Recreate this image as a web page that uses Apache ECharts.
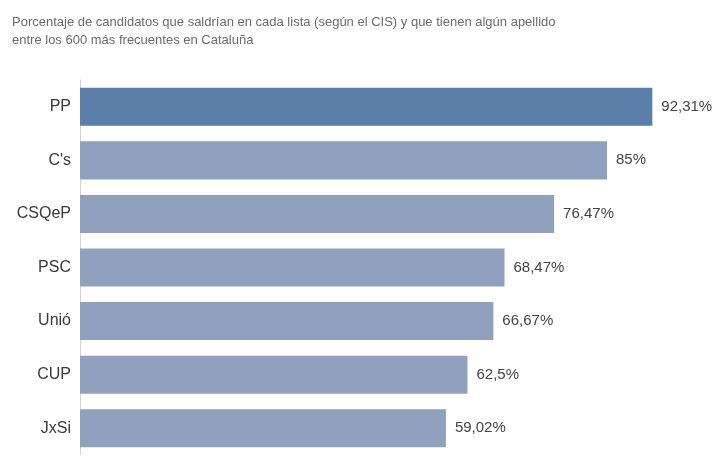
<!DOCTYPE html>
<html>
<head>
<meta charset="utf-8">
<script src="https://cdn.jsdelivr.net/npm/echarts@6/dist/echarts.min.js"></script>
<style>
html, body { margin: 0; padding: 0; background: #fff; }
#chart { width: 722px; height: 464px; }
</style>
</head>
<body>
<div id="chart"></div>
<script>
var partidos = ['PP', "C's", 'CSQeP', 'PSC', 'Unió', 'CUP', 'JxSi'];
var porcentajes = [92.31, 85, 76.47, 68.47, 66.67, 62.5, 59.02];
var etiquetas = ['92,31%', '85%', '76,47%', '68,47%', '66,67%', '62,5%', '59,02%'];

var chart = echarts.init(document.getElementById('chart'));

var datos = porcentajes.map(function (v, i) {
    return {
        value: v,
        itemStyle: { color: i === 0 ? '#5a7ea7' : '#90a1bd' }
    };
});

var option = {
    animation: false,
    title: {
        text: 'Porcentaje de candidatos que saldrían en cada lista (según el CIS) y que tienen algún apellido\nentre los 600 más frecuentes en Cataluña',
        left: 7,
        top: 8,
        textStyle: {
            fontFamily: 'Liberation Sans, Arial, sans-serif',
            fontSize: 13,
            fontWeight: 'normal',
            color: '#6b6b6b',
            lineHeight: 18
        }
    },
    grid: {
        left: 80,
        top: 80,
        width: 620,
        height: 375
    },
    xAxis: {
        type: 'value',
        min: 0,
        max: 100,
        show: false
    },
    yAxis: {
        type: 'category',
        inverse: true,
        data: partidos,
        axisLine: { show: true, lineStyle: { color: '#d4d4d4', width: 1 } },
        axisTick: { show: false },
        axisLabel: {
            margin: 9,
            fontFamily: 'Liberation Sans, Arial, sans-serif',
            fontSize: 16,
            color: '#3a3a3a'
        }
    },
    series: [{
        type: 'bar',
        data: datos,
        barCategoryGap: '29%',
        label: {
            show: true,
            position: 'right',
            distance: 9,
            fontFamily: 'Liberation Sans, Arial, sans-serif',
            fontSize: 15,
            color: '#444',
            formatter: function (p) { return etiquetas[p.dataIndex]; }
        }
    }]
};

chart.setOption(option);
window.onresize = chart.resize;
</script>
</body>
</html>
